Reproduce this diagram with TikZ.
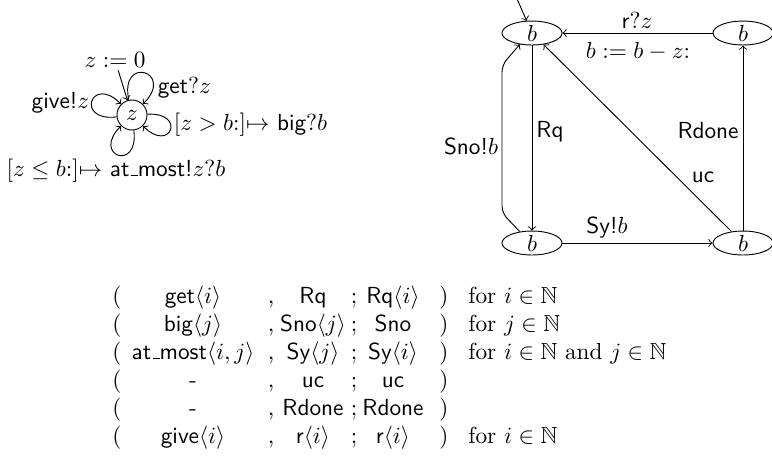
\documentclass[tikz,border=0pt]{standalone}
\usepackage{amssymb}
\usetikzlibrary{shapes.geometric}
\newcommand\usc{\leavevmode\kern.06em\vbox{\hrule width.3em}}
\newcommand\myrow[6]{%
  \node[cell] (#1a) at (117,-#2) {(};
  \node[cell] (#1b) at (193,-#2) {#3};
  \node[cell] (#1c) at (271,-#2) {,};
  \node[cell] (#1d) at (313,-#2) {#4};
  \node[cell] (#1e) at (354,-#2) {;};
  \node[cell] (#1f) at (393,-#2) {#5};
  \node[cell] (#1g) at (444,-#2) {)};
  \if\relax\detokenize{#6}\relax\else
  \node[cell,anchor=base west] (#1h) at (468,-#2) {#6};\fi}
\begin{document}
\begin{tikzpicture}[x=0.43pt,y=0.43pt,
  st/.style={draw,ellipse,minimum width=25.8pt,minimum height=10.3pt,inner sep=0pt},
  zst/.style={draw,circle,inner sep=0pt,minimum size=12.9pt},
  lbl/.style={inner sep=1pt},
  cell/.style={anchor=base,inner sep=0pt},
  tr/.style={->},
  lp/.style={->,looseness=8,min distance=5mm}]
\useasboundingbox (0,0) rectangle (772,-461);

% left automaton
\node[zst] (z) at (132,-115) {$z$};
\node[lbl] (zinit) at (115,-60) {$z:=0$};
\draw[tr] (zinit) -- (z);
\draw[lp] (z) to[out=102,in=45] (z);
\draw[lp] (z) to[out=187,in=135] (z);
\draw[lp] (z) to[out=3,in=-45] (z);
\draw[lp] (z) to[out=-83,in=-135] (z);
\node[lbl,anchor=west] (lget) at (155,-88) {\textsf{get}$?z$};
\node[lbl,anchor=east] (lgive) at (92,-103) {\textsf{give!}$z$};
\node[lbl,anchor=west] (lbig) at (171,-125) {$[z>b{:}]{\mapsto}$ \textsf{big}$?b$};
\node[lbl,anchor=base] (lat) at (116,-176) {$[z\le b{:}]{\mapsto}$ \textsf{at\usc most!}$z?b$};

% right automaton
\node[st] (A) at (532,-33) {$b$};
\node[st] (B) at (743,-33) {$b$};
\node[st] (C) at (532,-243) {$b$};
\node[st] (D) at (743,-243) {$b$};
\coordinate (ainit) at (514,8);
\draw[tr] (ainit) -- (A);
\draw[tr] (B) -- (A);
\draw[tr] (A) -- (C);
\draw[tr,rounded corners=3pt] (C.137) -- (502,-213) -- (502,-65) -- (A.223);
\draw[tr] (C) -- (D);
\draw[tr] (D) -- (B);
\draw[tr] (D) -- (A);
\node[lbl] (lr) at (637,-20) {\textsf{r}$?z$};
\node[lbl] (lb) at (638,-51) {$b:=b-z{:}$};
\node[lbl] (lrq) at (550,-132) {\textsf{Rq}};
\node[lbl] (lsno) at (471,-146) {\textsf{Sno!}$b$};
\node[lbl] (lsy) at (607,-228) {\textsf{Sy!}$b$};
\node[lbl] (lrd) at (708,-131) {\textsf{Rdone}};
\node[lbl] (luc) at (703,-177) {\textsf{uc}};

% table
\myrow{r1}{303}{\textsf{get}$\langle i\rangle$}{\textsf{Rq}}{\textsf{Rq}$\langle i\rangle$}{for $i\in\mathbb{N}$}
\myrow{r2}{331}{\textsf{big}$\langle j\rangle$}{\textsf{Sno}$\langle j\rangle$}{\textsf{Sno}}{for $j\in\mathbb{N}$}
\myrow{r3}{359}{\textsf{at\usc most}$\langle i,j\rangle$}{\textsf{Sy}$\langle j\rangle$}{\textsf{Sy}$\langle i\rangle$}{for $i\in\mathbb{N}$ and $j\in\mathbb{N}$}
\myrow{r4}{387}{\textsf{-}}{\textsf{uc}}{\textsf{uc}}{}
\myrow{r5}{415}{\textsf{-}}{\textsf{Rdone}}{\textsf{Rdone}}{}
\myrow{r6}{443}{\textsf{give}$\langle i\rangle$}{\textsf{r}$\langle i\rangle$}{\textsf{r}$\langle i\rangle$}{for $i\in\mathbb{N}$}
\end{tikzpicture}
\end{document}
